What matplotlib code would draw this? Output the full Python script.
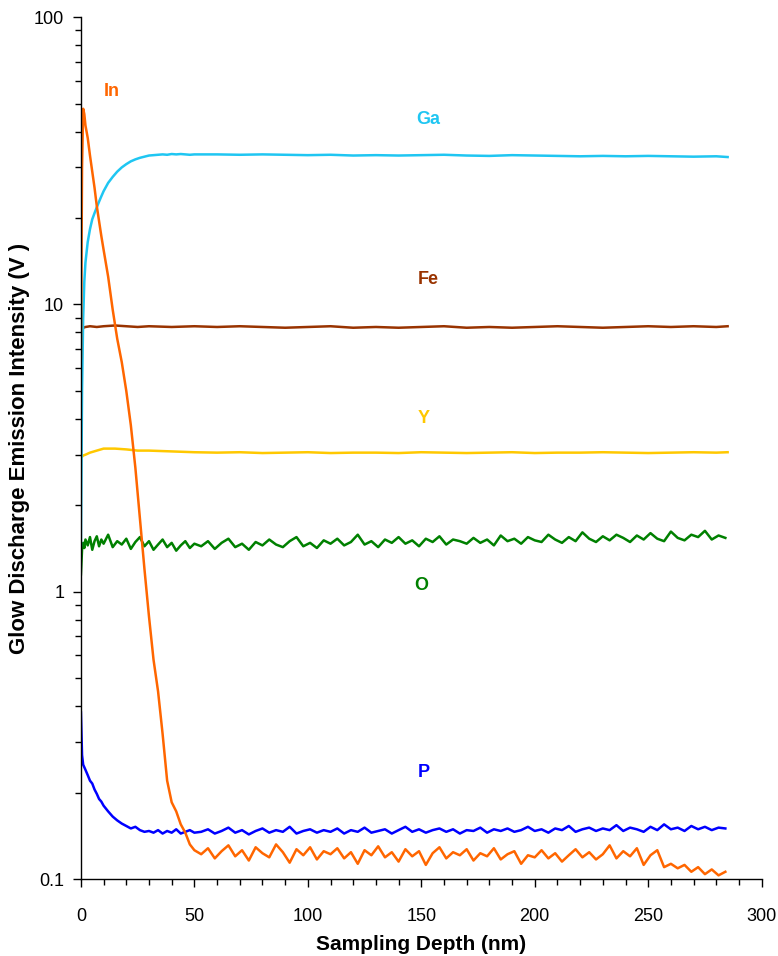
import matplotlib
matplotlib.use("Agg")
import matplotlib.pyplot as plt
from matplotlib.ticker import LogLocator, MultipleLocator, FixedFormatter, FixedLocator

# depth grids (nm)
depth_fine = [0, 0.5, 1, 1.5, 2, 3, 4, 5, 6, 7, 8, 9, 10, 12, 14, 16, 18, 20, 22, 24,
              26, 28, 30, 32, 34, 36, 38, 40, 42, 44, 46, 48, 50]
depth_tail = [53, 56, 59, 62, 65, 68, 71, 74, 77, 80, 83, 86, 89, 92, 95, 98, 101, 104,
              107, 110, 113, 116, 119, 122, 125, 128, 131, 134, 137, 140, 143, 146, 149,
              152, 155, 158, 161, 164, 167, 170, 173, 176, 179, 182, 185, 188, 191, 194,
              197, 200, 203, 206, 209, 212, 215, 218, 221, 224, 227, 230, 233, 236, 239,
              242, 245, 248, 251, 254, 257, 260, 263, 266, 269, 272, 275, 278, 281, 284]
depth_sparse = [0, 0.5, 1, 2, 4, 7, 10, 15, 20, 25, 30, 40, 50, 60, 70, 80, 90, 100, 110,
                120, 130, 140, 150, 160, 170, 180, 190, 200, 210, 220, 230, 240, 250, 260,
                270, 280, 285]

# Ga: dense start, sparse plateau
ga_depth = depth_fine + [60, 70, 80, 90, 100, 110, 120, 130, 140, 150, 160, 170, 180,
                         190, 200, 210, 220, 230, 240, 250, 260, 270, 280, 285]
ga = [1.45, 5, 9, 12, 14, 16.5, 18.3, 19.8, 20.8, 21.8, 22.8, 23.8, 24.8, 26.5, 27.8,
      29, 30, 30.8, 31.5, 32, 32.4, 32.7, 33, 33.1, 33.2, 33.3, 33.2, 33.4, 33.3, 33.4,
      33.3, 33.2, 33.3,
      33.3, 33.2, 33.3, 33.2, 33.1, 33.2, 33.0, 33.1, 33.0, 33.1, 33.2, 33.0, 32.9, 33.1,
      33.0, 32.9, 32.8, 32.9, 32.8, 32.9, 32.8, 32.7, 32.8, 32.6]

fe = [7.0, 8.0, 8.3, 8.35, 8.4, 8.35, 8.4, 8.45, 8.4, 8.35, 8.4, 8.35, 8.4, 8.35, 8.4,
      8.35, 8.3, 8.35, 8.4, 8.3, 8.35, 8.3, 8.35, 8.4, 8.3, 8.35, 8.3, 8.35, 8.4, 8.35,
      8.3, 8.35, 8.4, 8.35, 8.4, 8.35, 8.4]

yt = [2.95, 2.95, 2.98, 3.0, 3.05, 3.1, 3.15, 3.15, 3.13, 3.1, 3.1, 3.08, 3.06,
      3.05, 3.06, 3.04, 3.05, 3.06, 3.04, 3.05, 3.05, 3.04, 3.06, 3.05, 3.04, 3.05,
      3.06, 3.04, 3.05, 3.05, 3.06, 3.05, 3.04, 3.05, 3.06, 3.05, 3.06]

o = [1.15, 1.40, 1.48, 1.42, 1.52, 1.45, 1.55, 1.40, 1.50, 1.56, 1.44, 1.52, 1.47, 1.58,
     1.43, 1.50, 1.46, 1.53, 1.41, 1.49, 1.55, 1.44, 1.50, 1.40, 1.46, 1.52, 1.43, 1.48,
     1.39, 1.45, 1.50, 1.42, 1.47,
     1.44, 1.50, 1.41, 1.48, 1.53, 1.43, 1.47, 1.40, 1.49, 1.45,
     1.52, 1.46, 1.43, 1.50, 1.55, 1.44, 1.48, 1.42, 1.51, 1.47,
     1.53, 1.45, 1.49, 1.58, 1.46, 1.50, 1.43, 1.52, 1.48, 1.55,
     1.47, 1.51, 1.44, 1.53, 1.49, 1.56, 1.46, 1.52, 1.50, 1.47,
     1.54, 1.48, 1.52, 1.45, 1.57, 1.50, 1.53, 1.47, 1.55, 1.51,
     1.49, 1.58, 1.52, 1.48, 1.55, 1.50, 1.61, 1.53, 1.49, 1.56,
     1.51, 1.58, 1.54, 1.49, 1.57, 1.52, 1.60, 1.53, 1.50, 1.62,
     1.54, 1.51, 1.58, 1.55, 1.63, 1.52, 1.57, 1.54]

indium = [6.5, 30, 48, 46, 42, 38, 33, 29, 25.5, 22, 19.5, 17.3, 15.5, 12.5, 9.6, 7.6,
          6.3, 5.0, 3.8, 2.7, 1.8, 1.2, 0.82, 0.58, 0.45, 0.32, 0.22, 0.185, 0.172, 0.155,
          0.145, 0.132, 0.126,
          0.122, 0.128, 0.118, 0.125, 0.131, 0.120, 0.126, 0.116, 0.129, 0.123,
          0.119, 0.132, 0.124, 0.114, 0.127, 0.121, 0.129, 0.117, 0.125, 0.122,
          0.128, 0.118, 0.124, 0.113, 0.126, 0.121, 0.130, 0.119, 0.124, 0.115,
          0.127, 0.120, 0.125, 0.112, 0.123, 0.129, 0.118, 0.124, 0.121, 0.127,
          0.116, 0.123, 0.120, 0.128, 0.117, 0.122, 0.125, 0.113, 0.121, 0.119,
          0.126, 0.118, 0.123, 0.115, 0.121, 0.127, 0.119, 0.124, 0.117, 0.122,
          0.131, 0.118, 0.125, 0.120, 0.128, 0.112, 0.121, 0.126, 0.110, 0.113,
          0.109, 0.112, 0.106, 0.110, 0.104, 0.108, 0.103, 0.106]

p = [0.38, 0.27, 0.25, 0.245, 0.24, 0.23, 0.22, 0.215, 0.205, 0.198, 0.19, 0.186, 0.18,
     0.172, 0.165, 0.16, 0.156, 0.153, 0.15, 0.152, 0.148, 0.146, 0.147, 0.145, 0.148,
     0.144, 0.147, 0.145, 0.149, 0.144, 0.146, 0.148, 0.145,
     0.146, 0.149, 0.144, 0.147, 0.151, 0.145, 0.148, 0.143, 0.147, 0.150,
     0.145, 0.148, 0.146, 0.152, 0.144, 0.147, 0.149, 0.145, 0.148, 0.146,
     0.150, 0.144, 0.148, 0.146, 0.151, 0.145, 0.147, 0.149, 0.144, 0.148,
     0.152, 0.146, 0.149, 0.145, 0.148, 0.150, 0.146, 0.149, 0.144, 0.148,
     0.147, 0.151, 0.145, 0.149, 0.147, 0.150, 0.146, 0.148, 0.152, 0.147,
     0.149, 0.145, 0.150, 0.148, 0.153, 0.146, 0.149, 0.151, 0.147, 0.150,
     0.148, 0.154, 0.147, 0.151, 0.149, 0.146, 0.152, 0.148, 0.155, 0.149,
     0.151, 0.147, 0.153, 0.149, 0.152, 0.148, 0.151, 0.150]

depth_dense = depth_fine + depth_tail

# element labels: name, x (nm), y (V), colour
labels = [("In", 13.5, 55, "#FF6600"), ("Ga", 153, 44, "#1FC6F2"),
          ("Fe", 153, 12.2, "#993300"), ("Y", 151, 4.0, "#FFC800"),
          ("O", 150, 1.05, "#008000"), ("P", 151, 0.235, "#0000FF")]

x_ticks = [0, 50, 100, 150, 200, 250, 300]
y_ticks = [0.1, 1, 10, 100]
y_ticklabels = ["0.1", "1", "10", "100"]

plt.rcParams['font.family'] = ['Liberation Sans Narrow', 'Liberation Sans', 'DejaVu Sans']

fig = plt.figure(figsize=(7.78, 9.56), dpi=100)
ax = fig.add_axes([0.104, 0.0805, 0.875, 0.9015])

lw = 1.8
ax.plot(depth_sparse, yt, color="#FFC800", lw=lw)
ax.plot(depth_sparse, fe, color="#993300", lw=lw)
ax.plot(depth_dense, o, color="#008000", lw=lw)
ax.plot(depth_dense, p, color="#0000FF", lw=lw)
ax.plot(ga_depth, ga, color="#1FC6F2", lw=lw)
ax.plot(depth_dense, indium, color="#FF6600", lw=lw)

for name, lx, ly, c in labels:
    ax.text(lx, ly, name, color=c, fontsize=13, fontweight="bold",
            ha="center", va="center", family=['Liberation Sans', 'DejaVu Sans'])

ax.set_yscale("log")
ax.set_xlim(0, 300)
ax.set_ylim(0.1, 100)
ax.set_xticks(x_ticks)
ax.xaxis.set_minor_locator(MultipleLocator(10))
ax.yaxis.set_major_locator(FixedLocator(y_ticks))
ax.yaxis.set_major_formatter(FixedFormatter(y_ticklabels))
ax.yaxis.set_minor_locator(LogLocator(base=10, subs=range(2, 10)))
ax.yaxis.set_minor_formatter(FixedFormatter([]))

for s in ["top", "right"]:
    ax.spines[s].set_visible(False)
for s in ["left", "bottom"]:
    ax.spines[s].set_linewidth(1.0)
ax.tick_params(which="major", direction="out", length=6, width=1, labelsize=13)
ax.tick_params(axis="y", which="major", pad=6)
ax.tick_params(axis="x", which="major", pad=15)
ax.tick_params(which="minor", direction="out", length=4, width=1)

ax.set_xlabel("Sampling Depth (nm)", fontsize=15, fontweight="bold",
              family=['Liberation Sans', 'DejaVu Sans'], labelpad=7)
ax.set_ylabel("Glow Discharge Emission Intensity (V )", fontsize=16, fontweight="bold",
              family=['Liberation Sans', 'DejaVu Sans'], labelpad=3)

fig.savefig("out.png", dpi=100)
